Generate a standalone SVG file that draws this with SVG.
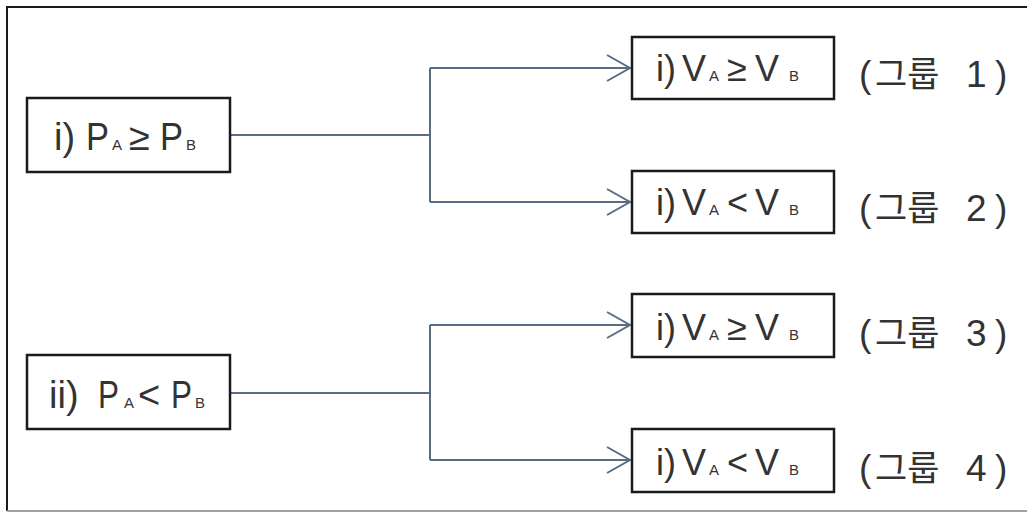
<svg xmlns="http://www.w3.org/2000/svg" width="1027" height="512" viewBox="0 0 1027 512">
  <style>
    .box { fill: #ffffff; stroke: #1a1a1a; stroke-width: 2.5; }
    .link { fill: none; stroke: #5a6b85; stroke-width: 2; }
    .lbl { font-family: "Liberation Sans", "Noto Sans CJK KR", sans-serif; fill: #333333; }
    .main { font-size: 36px; }
    .big { font-size: 38px; }
    .sub { font-size: 15px; }
    .grp { font-family: "Liberation Sans", "Noto Sans CJK KR", sans-serif; font-size: 37px; fill: #333333; }
    .ko { font-family: "Noto Sans CJK KR", sans-serif; font-size: 35px; }
  </style>
  <defs>
    <marker id="open-arrow" markerUnits="userSpaceOnUse" markerWidth="30" markerHeight="30" viewBox="-25 -15 30 30" refX="0" refY="0" orient="auto">
      <path d="M-23,-13 L0,0 L-23,13" fill="none" stroke="#5a6b85" stroke-width="2"/>
    </marker>
  </defs>

  <rect width="1027" height="512" fill="#ffffff"/>

  <!-- frame -->
  <path d="M1027,7 H7 V511" fill="none" stroke="#1a1a1a" stroke-width="2"/>
  <line x1="7" y1="511" x2="1027" y2="511" stroke="#a0a0a0" stroke-width="2"/>

  <!-- connectors -->
  <g id="connectors">
    <path class="link" d="M230,135 H430"/>
    <path class="link" d="M430,68 V202"/>
    <path class="link" d="M430,68 H630" marker-end="url(#open-arrow)"/>
    <path class="link" d="M430,202 H630" marker-end="url(#open-arrow)"/>
    <path class="link" d="M230,393 H430"/>
    <path class="link" d="M430,325 V460"/>
    <path class="link" d="M430,325 H630" marker-end="url(#open-arrow)"/>
    <path class="link" d="M430,460 H630" marker-end="url(#open-arrow)"/>
  </g>

  <!-- left conditions -->
  <g id="cond-p-ge">
    <rect class="box" x="27" y="98" width="203" height="74"/>
    <text class="lbl big" y="150"><tspan x="54">i)</tspan><tspan x="86" textLength="23" lengthAdjust="spacingAndGlyphs">P</tspan><tspan class="sub" x="112">A</tspan><tspan x="129">≥</tspan><tspan x="160" textLength="23" lengthAdjust="spacingAndGlyphs">P</tspan><tspan class="sub" x="186">B</tspan></text>
  </g>
  <g id="cond-p-lt">
    <rect class="box" x="27" y="355" width="203" height="74"/>
    <text class="lbl big" y="408"><tspan x="49">ii)</tspan><tspan x="98" textLength="21" lengthAdjust="spacingAndGlyphs">P</tspan><tspan class="sub" x="124">A</tspan><tspan x="138">&lt;</tspan><tspan x="171" textLength="21" lengthAdjust="spacingAndGlyphs">P</tspan><tspan class="sub" x="195">B</tspan></text>
  </g>

  <!-- right outcomes -->
  <g id="group-1">
    <rect class="box" x="632" y="37" width="202" height="62"/>
    <text class="lbl main" y="81"><tspan x="656">i)</tspan><tspan x="682">V</tspan><tspan class="sub" x="709">A</tspan><tspan x="727">≥</tspan><tspan x="755">V</tspan><tspan class="sub" x="789">B</tspan></text>
    <text class="grp" y="87"><tspan x="859">(</tspan><tspan class="ko" x="875">그룹</tspan><tspan x="966">1</tspan><tspan x="995">)</tspan></text>
  </g>
  <g id="group-2">
    <rect class="box" x="632" y="171" width="202" height="62"/>
    <text class="lbl main" y="215"><tspan x="656">i)</tspan><tspan x="682">V</tspan><tspan class="sub" x="709">A</tspan><tspan x="727">&lt;</tspan><tspan x="755">V</tspan><tspan class="sub" x="789">B</tspan></text>
    <text class="grp" y="221"><tspan x="859">(</tspan><tspan class="ko" x="875">그룹</tspan><tspan x="966">2</tspan><tspan x="995">)</tspan></text>
  </g>
  <g id="group-3">
    <rect class="box" x="632" y="294" width="202" height="63"/>
    <text class="lbl main" y="340"><tspan x="656">i)</tspan><tspan x="682">V</tspan><tspan class="sub" x="709">A</tspan><tspan x="727">≥</tspan><tspan x="755">V</tspan><tspan class="sub" x="789">B</tspan></text>
    <text class="grp" y="346"><tspan x="859">(</tspan><tspan class="ko" x="875">그룹</tspan><tspan x="966">3</tspan><tspan x="995">)</tspan></text>
  </g>
  <g id="group-4">
    <rect class="box" x="632" y="429" width="202" height="63"/>
    <text class="lbl main" y="475"><tspan x="656">i)</tspan><tspan x="682">V</tspan><tspan class="sub" x="709">A</tspan><tspan x="727">&lt;</tspan><tspan x="755">V</tspan><tspan class="sub" x="789">B</tspan></text>
    <text class="grp" y="481"><tspan x="859">(</tspan><tspan class="ko" x="875">그룹</tspan><tspan x="966">4</tspan><tspan x="995">)</tspan></text>
  </g>
</svg>
